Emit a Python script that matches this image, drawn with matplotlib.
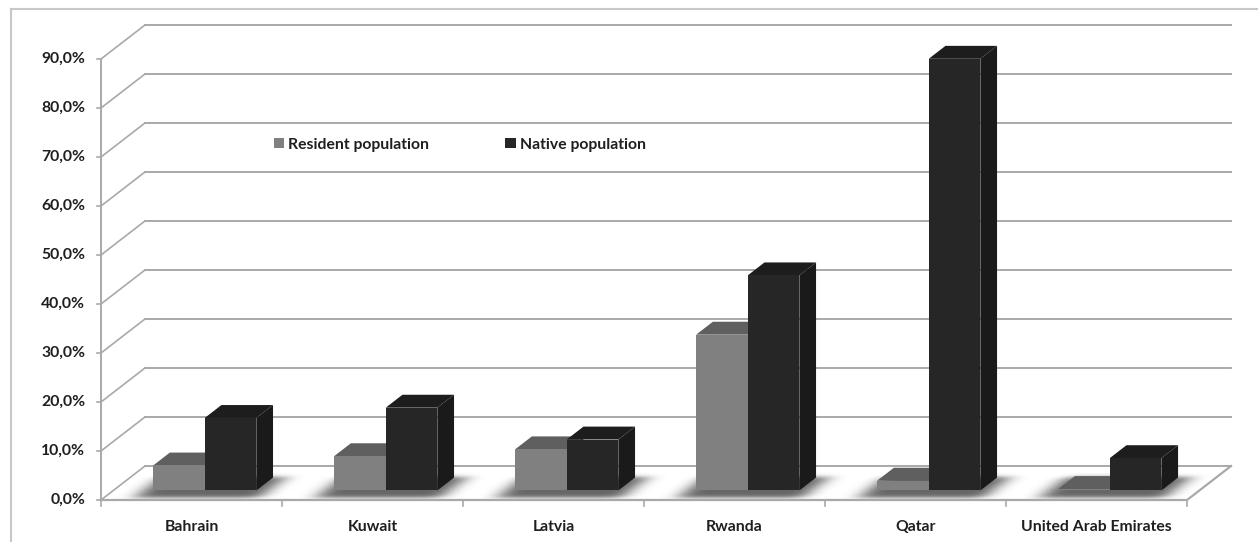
import math
import numpy as np
import matplotlib.pyplot as plt
from matplotlib.patches import Polygon, Rectangle
from matplotlib.colors import LinearSegmentedColormap

# Data
countries = ["Bahrain", "Kuwait", "Latvia", "Rwanda", "Qatar", "United Arab Emirates"]
resident = [5.1, 7.0, 8.4, 31.8, 2.0, 0.3]
native = [14.8, 16.9, 10.4, 43.9, 88.1, 6.6]
yticks = [0, 10, 20, 30, 40, 50, 60, 70, 80, 90]

plt.rcParams["font.family"] = ["Lato", "DejaVu Sans"]
plt.rcParams["font.weight"] = "bold"

W, H = 1258, 542
fig = plt.figure(figsize=(W / 100, H / 100), dpi=100)
ax = fig.add_axes([0, 0, 1, 1])
ax.set_xlim(-0.558, 6.392)
ax.set_ylim(-8.57, 102.04)
ax.axis("off")

# oblique depth of the chart box, in category / percent units
DX, DY = 0.243, 6.94
n = len(countries)
FS = 11.3
txt_c = "#1f1f1f"


def pt(x, d, v=0.0):
    return (x + d * DX, v + d * DY)


grid_c = "#a9a9a9"

# outer frame
fig.add_artist(plt.Line2D([11 / W, 11 / W], [0, 1 - 8.6 / H], color="#c8c8c8", lw=1.5))
fig.add_artist(plt.Line2D([11 / W, 1], [1 - 8.6 / H, 1 - 8.6 / H], color="#c8c8c8", lw=1.5))

# back wall and side wall gridlines
for v in yticks:
    a, b = pt(0, 1, v), pt(n, 1, v)
    ax.plot([a[0], b[0]], [a[1], b[1]], color=grid_c, lw=1.4, zorder=2)
    c = pt(0, 0, v)
    ax.plot([c[0], a[0]], [c[1], a[1]], color=grid_c, lw=1.2, zorder=2)
    ax.plot([-0.022, 0], [v, v], color=grid_c, lw=1.2, zorder=2)
    ax.text(-0.088, v, f"{v:.1f}%".replace(".", ","), ha="right", va="center",
            fontsize=FS, fontweight="bold", color=txt_c)

# front vertical axis
ax.plot([0, 0], [0, yticks[-1]], color=grid_c, lw=1.4, zorder=2)

# floor
floor = [pt(0, 0), pt(n, 0), pt(n, 1), pt(0, 1)]
ax.add_patch(Polygon(floor, closed=True, facecolor="white", edgecolor="none", zorder=1.5))
fx, fy = zip(*[pt(0, 0), pt(n, 0), pt(n, 1)])
ax.plot(fx, fy, color=grid_c, lw=1.6, zorder=2)

# category ticks and labels
for i in range(n + 1):
    ax.plot([i, i], [0, -1.2], color=grid_c, lw=1.2, zorder=2)
for i, name in enumerate(countries):
    ax.text(i + 0.5, -5.5, name, ha="center", va="center", fontsize=FS,
            fontweight="bold", color=txt_c)

bar_w = 0.285
d0, d1 = 0.28, 0.66

# soft shadows under each pair of bars, drawn as a mesh on the floor
erf = np.vectorize(math.erf)


def soft_box(t, lo, hi, s):
    return 0.5 * (erf((t - lo) / (math.sqrt(2) * s)) - erf((t - hi) / (math.sqrt(2) * s)))


xe = np.linspace(0, n, 1201)
de = np.linspace(0, 1, 101)
xm = 0.5 * (xe[1:] + xe[:-1])
dm = 0.5 * (de[1:] + de[:-1])
shade = np.zeros((len(dm), len(xm)))
for i in range(n):
    xc = i + 0.505
    bx = soft_box(xm, xc - bar_w - 0.05, xc + bar_w + 0.07, 0.05)
    bd = soft_box(dm, 0.07, d1 + 0.02, 0.06)
    shade = np.maximum(shade, np.outer(bd, bx))
XX = xe[None, :] + de[:, None] * DX
YY = np.repeat((de * DY)[:, None], len(xe), axis=1)
shadow_cmap = LinearSegmentedColormap.from_list("shadow", ["white", "black"])
ax.pcolormesh(XX, YY, shade * 0.6, cmap=shadow_cmap, vmin=0, vmax=1,
              shading="flat", antialiased=False, zorder=1.6)


def bar3d(x0, x1, val, front, top, side):
    fl, fr = pt(x0, d0), pt(x1, d0)
    bl, br = pt(x0, d1), pt(x1, d1)
    ax.add_patch(Polygon([fr, br, (br[0], br[1] + val), (fr[0], fr[1] + val)],
                         closed=True, facecolor=side, edgecolor="none", zorder=3))
    ax.add_patch(Polygon([(fl[0], fl[1] + val), (fr[0], fr[1] + val),
                          (br[0], br[1] + val), (bl[0], bl[1] + val)],
                         closed=True, facecolor=top, edgecolor="none", zorder=3))
    ax.add_patch(Polygon([fl, fr, (fr[0], fr[1] + val), (fl[0], fl[1] + val)],
                         closed=True, facecolor=front, edgecolor="none", zorder=3))


for i in range(n):
    xc = i + 0.505
    bar3d(xc - bar_w, xc, resident[i], "#808080", "#5f5f5f", "#555555")
    bar3d(xc, xc + bar_w, native[i], "#262626", "#1d1d1d", "#1a1a1a")

# legend
for sx, color, label in [(273.5, "#808080", "Resident population"),
                         (505, "#262626", "Native population")]:
    fig.add_artist(Rectangle((sx / W, 1 - 148.3 / H), 10.5 / W, 10.5 / H,
                             transform=fig.transFigure, facecolor=color, edgecolor="none"))
    fig.text((sx + 14.5) / W, 1 - 145.0 / H, label, ha="left", va="center",
             fontsize=FS, fontweight="bold", color=txt_c)

fig.savefig("out.png", dpi=100, facecolor="white")
